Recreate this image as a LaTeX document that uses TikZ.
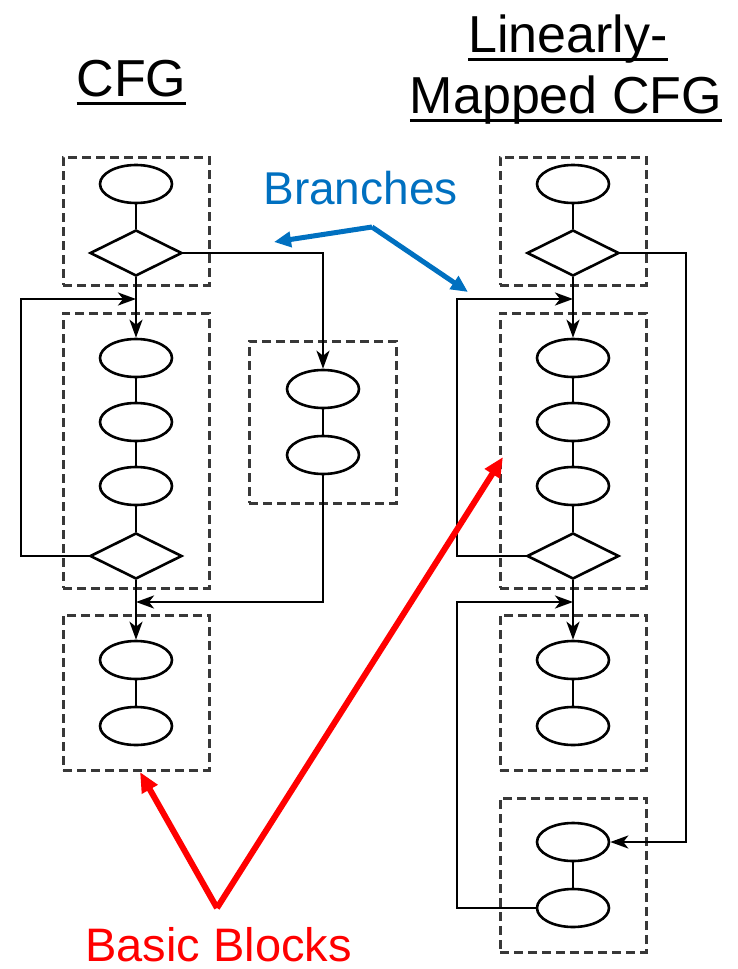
\documentclass[tikz,border=0pt]{standalone}
\usepackage{fontspec}
\setmainfont{Liberation Sans}
\usepackage{tikz}
\usetikzlibrary{shapes.geometric,arrows.meta}

\definecolor{brblue}{HTML}{0070C0}
\definecolor{bbred}{HTML}{FF0000}

% word-style underline: fixed distance below the baseline
\newcommand\ulined[1]{\setbox0=\hbox{#1}\rlap{\rule[-8.5pt]{\wd0}{3pt}}\box0}

\begin{document}
\begin{tikzpicture}[x=1pt,y=-1pt,line width=2.6pt,
    >={Stealth[length=18pt,width=13pt,inset=5pt]},
    state/.style={ellipse,draw,inner sep=0pt,minimum width=72pt,minimum height=38pt},
    test/.style={diamond,draw,inner sep=0pt,minimum width=92pt,minimum height=46pt},
    block/.style={draw=black!78,line width=3pt,dash pattern=on 9pt off 5pt,minimum width=146pt},
    title/.style={inner sep=0pt,anchor=base,font=\fontsize{52}{52}\selectfont},
    note/.style={inner sep=0pt,anchor=base}]

  \useasboundingbox (0,0) rectangle (738,969);

  % basic blocks
  \node[block,minimum height=128pt] (b1) at (136,221)   {};
  \node[block,minimum height=275pt] (b2) at (136,450.5) {};
  \node[block,minimum height=162pt,minimum width=147pt] (b3) at (322.5,422) {};
  \node[block,minimum height=155pt] (b4) at (136,692.5) {};

  \node[block,minimum height=128pt] (B1) at (573,221)   {};
  \node[block,minimum height=275pt] (B2) at (573,450.5) {};
  \node[block,minimum height=155pt] (B3) at (573,692.5) {};
  \node[block,minimum height=154pt] (B4) at (573,875)   {};

  % CFG
  \node[state] (e1) at (136,184) {};
  \node[test]  (d1) at (136,253) {};
  \node[state] (e2) at (136,358) {};
  \node[state] (e3) at (136,422) {};
  \node[state] (e4) at (136,486) {};
  \node[test]  (d2) at (136,556) {};
  \node[state] (e5) at (136,660) {};
  \node[state] (e6) at (136,726) {};
  \node[state] (e7) at (323,389) {};
  \node[state] (e8) at (323,455) {};

  \coordinate (l1) at (21,299);
  \coordinate (j1) at (136,299);
  \coordinate (j2) at (136,602);

  \path (e1) edge (d1)
        (e2) edge (e3)
        (e3) edge (e4)
        (e4) edge (d2)
        (e5) edge (e6)
        (e7) edge (e8);
  \draw[->] (d1.south) -- (e2.north);
  \draw[->] (d2.south) -- (e5.north);
  \draw[->] (d2.west) -| (l1) -- (j1);
  \draw[->] (d1.east) -| (e7.north);
  \draw[->] (e8.south) |- (j2);

  % linearly-mapped CFG
  \node[state] (E1) at (573,184) {};
  \node[test]  (D1) at (573,253) {};
  \node[state] (E2) at (573,358) {};
  \node[state] (E3) at (573,422) {};
  \node[state] (E4) at (573,486) {};
  \node[test]  (D2) at (573,556) {};
  \node[state] (E5) at (573,660) {};
  \node[state] (E6) at (573,726) {};
  \node[state] (E7) at (573,842) {};
  \node[state] (E8) at (573,908) {};

  \coordinate (l2) at (457,299);
  \coordinate (J1) at (573,299);
  \coordinate (l3) at (457,602);
  \coordinate (J2) at (573,602);
  \coordinate (r1) at (686,842);

  \path (E1) edge (D1)
        (E2) edge (E3)
        (E3) edge (E4)
        (E4) edge (D2)
        (E5) edge (E6)
        (E7) edge (E8);
  \draw[->] (D1.south) -- (E2.north);
  \draw[->] (D2.south) -- (E5.north);
  \draw[->] (D2.west) -| (l2) -- (J1);
  \draw[->] (E8.west) -| (l3) -- (J2);
  \draw[->] (D1.east) -| (r1) -- (E7.east);

  % titles
  \node[title] (cfg)  at (131.5,96) {\ulined{CFG}};
  \node[title] (lin)  at (568,52)   {\ulined{Linearly-}};
  \node[title] (map)  at (566,113)  {\ulined{Mapped CFG}};

  % labels with pointers
  \node[note,text=brblue,font=\fontsize{46}{46}\selectfont] (br) at (360.5,204) {Branches};
  \coordinate (brk) at (372,227);
  \coordinate (brl) at (274,242);
  \coordinate (brr) at (468,292);
  \draw[brblue,line width=5pt,-{Triangle[length=17pt,width=15pt]}] (brk) -- (brl);
  \draw[brblue,line width=5pt,-{Triangle[length=17pt,width=15pt]}] (brk) -- (brr);

  \node[note,text=bbred,font=\fontsize{47}{47}\selectfont] (bb) at (218.5,961) {Basic Blocks};
  \coordinate (bbk) at (217,908);
  \coordinate (bbl) at (140,772);
  \coordinate (bbr) at (503,457);
  \draw[bbred,line width=6pt,-{Triangle[length=20pt,width=17pt]}] (bbk) -- (bbl);
  \draw[bbred,line width=6pt,-{Triangle[length=20pt,width=17pt]}] (bbk) -- (bbr);
\end{tikzpicture}
\end{document}
